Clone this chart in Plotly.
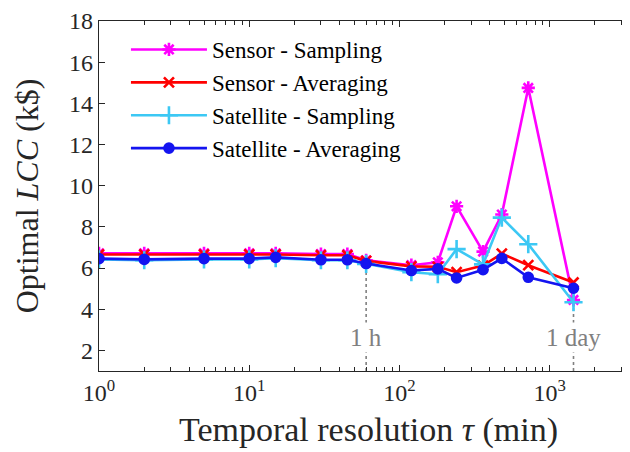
import plotly.graph_objects as go
import math

# ---- data ----
tau_min = [1, 2, 5, 10, 15, 30, 45, 60, 120, 180, 240, 360, 480, 720, 1440]
sensor_sampling = [6.72, 6.72, 6.72, 6.72, 6.72, 6.68, 6.68, 6.38, 6.14, 6.28, 9.0, 6.8, 8.6, 14.75, 4.45]
sensor_averaging = [6.66, 6.66, 6.66, 6.66, 6.66, 6.62, 6.62, 6.35, 6.08, 6.06, 5.8, 6.12, 6.7, 6.14, 5.3]
satellite_sampling = [6.42, 6.38, 6.42, 6.42, 6.48, 6.38, 6.38, 6.2, 5.8, 5.7, 6.92, 6.18, 8.45, 7.16, 4.34]
satellite_averaging = [6.46, 6.42, 6.46, 6.46, 6.52, 6.4, 6.4, 6.22, 5.88, 5.96, 5.52, 5.92, 6.47, 5.55, 5.02]

series_names = ["Sensor - Sampling", "Sensor - Averaging", "Satellite - Sampling", "Satellite - Averaging"]
ref_marks = [60, 1440]
ref_labels = ["1 h", "1 day"]

y_ticks = [2, 4, 6, 8, 10, 12, 14, 16, 18]
x_ticks = [1, 10, 100, 1000]
x_ticklabels = ["10<sup>0</sup>", "10<sup>1</sup>", "10<sup>2</sup>", "10<sup>3</sup>"]
y_ticklabels = [str(v) for v in y_ticks]
y_range = [1, 18]
x_max = 3870

colors = ["#FF00FF", "#FF0000", "#3CC8F4", "#1414F0"]
symbols = ["asterisk-open", "x-thin-open", "cross-thin-open", "circle"]
msizes = [11, 10, 13, 9]

all_series = [sensor_sampling, sensor_averaging, satellite_sampling, satellite_averaging]

fig = go.Figure()

SERIF = "Liberation Serif"
AXC = "#262626"

# reference dotted lines
for xm in ref_marks:
    i = tau_min.index(xm)
    top = min(s[i] for s in all_series)
    fig.add_trace(go.Scatter(x=[xm, xm], y=[y_range[0], top], mode="lines",
                             line=dict(color="#808080", width=1.6, dash="3px,3px"),
                             showlegend=False, hoverinfo="skip"))

for name, ys, c, sym, ms in zip(series_names, all_series, colors, symbols, msizes):
    fig.add_trace(go.Scatter(
        x=tau_min, y=ys, name=name, mode="lines+markers",
        line=dict(color=c, width=2.6),
        marker=dict(symbol=sym, size=ms, color=c, line=dict(color=c, width=2.6)),
    ))

for xm, lab in zip(ref_marks, ref_labels):
    fig.add_annotation(x=math.log10(xm), y=2.64, text=lab, showarrow=False,
                       xanchor="center", yanchor="middle", bgcolor="white",
                       font=dict(family=SERIF, size=25, color="#808080"))

minor_vals = [m * 10 ** d for d in range(0, 4) for m in range(2, 10) if m * 10 ** d < x_max]

fig.update_layout(
    width=630, height=452,
    margin=dict(l=91, r=0, t=13, b=89),
    paper_bgcolor="white", plot_bgcolor="white",
    font=dict(family=SERIF, color=AXC),
    legend=dict(x=0.05, y=0.98, xanchor="left", yanchor="top",
                font=dict(family=SERIF, size=23, color="#000000"),
                bgcolor="rgba(0,0,0,0)", tracegroupgap=0, itemwidth=76),
    xaxis=dict(type="log", range=[0, math.log10(x_max)],
               tickvals=x_ticks, ticktext=x_ticklabels,
               ticks="inside", ticklen=6, tickwidth=1.2, tickcolor=AXC,
               showline=True, linecolor=AXC, linewidth=1.3, mirror="ticks",
               showgrid=False, zeroline=False,
               tickfont=dict(family=SERIF, size=24, color=AXC),
               minor=dict(tickvals=minor_vals, ticks="inside", ticklen=3.5, tickcolor=AXC, tickwidth=1, showgrid=False),
               title=dict(text="Temporal resolution <i>τ</i> (min)", font=dict(family=SERIF, size=34, color=AXC), standoff=12)),
    yaxis=dict(range=y_range, tickvals=y_ticks, ticktext=y_ticklabels,
               ticks="inside", ticklen=6, tickwidth=1.2, tickcolor=AXC,
               showline=True, linecolor=AXC, linewidth=1.3, mirror="ticks",
               showgrid=False, zeroline=False,
               tickfont=dict(family=SERIF, size=24, color=AXC),
               title=dict(text="Optimal <i>LCC</i> (k$)", font=dict(family=SERIF, size=32, color=AXC), standoff=20)),
)

fig.write_html("out.html")
